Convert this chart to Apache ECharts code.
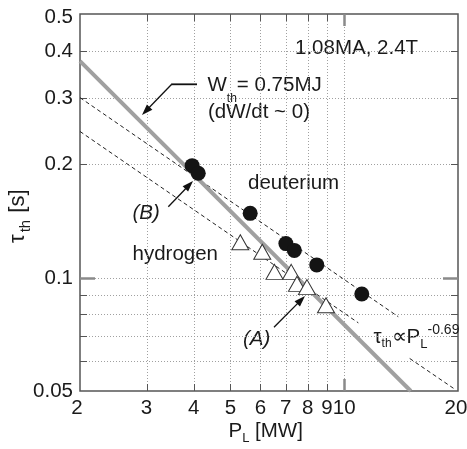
<!DOCTYPE html>
<html>
<head>
<meta charset="utf-8">
<script src="https://cdn.jsdelivr.net/npm/echarts@6/dist/echarts.min.js"></script>
<style>
  html, body { margin: 0; padding: 0; background: #fff; }
  #chart { width: 467px; height: 449px; }
</style>
</head>
<body>
<div id="chart"></div>
<script>
// Deuterium discharges: loss power P_L (MW) and thermal confinement time (s)
const deutP   = [3.96, 4.11, 5.64, 7.01, 7.38, 8.46, 11.13];
const deutTau = [0.198, 0.189, 0.148, 0.123, 0.118, 0.108, 0.0904];
// Hydrogen discharges
const hydP    = [5.31, 6.07, 6.54, 7.24, 7.50, 7.97, 8.95];
const hydTau  = [0.124, 0.117, 0.1035, 0.1035, 0.0962, 0.0943, 0.0844];
// Constant stored energy W_th = 0.75 MJ (end points of the straight line)
const wthP   = [2, 15];
const wthTau = [0.375, 0.05];
// tau ~ P^-0.69 guide lines (end points); the lower one is broken around its label
const upperP    = [2, 13.9];
const upperTau  = [0.3, 0.0787];
const lowerP1   = [2, 10.9];
const lowerTau1 = [0.244, 0.0758];
const lowerP2   = [14.9, 19.7];
const lowerTau2 = [0.061, 0.0504];
// Axis ranges, grid lines and tick labels
const xRange = [2, 20];
const yRange = [0.05, 0.5];
const xGridVals = [3, 4, 5, 6, 7, 8, 9, 10];
const yGridVals = [0.06, 0.07, 0.08, 0.09, 0.1, 0.2, 0.3, 0.4];
const xMajor = [10];
const yMajor = [0.1];
const xTickLabels = [2, 3, 4, 5, 6, 7, 8, 9, 10, 20];
const yTickLabels = [0.05, 0.1, 0.2, 0.3, 0.4, 0.5];

const FONT = '"Liberation Sans", Arial, Helvetica, sans-serif';
const INK = '#1a1a1a';
const BIG = 20.5;

const zip = (xs, ys) => xs.map((x, i) => [x, ys[i]]);

// text measuring for runs of normal / sub / superscript text
const mctx = document.createElement('canvas').getContext('2d');
function fontOf(size, italic) { return (italic ? 'italic ' : '') + size + 'px ' + FONT; }
function textW(t, size, italic) { mctx.font = fontOf(size, italic); return mctx.measureText(t).width; }
// parts: [text, fontSize, baselineShift, italic, extraGapAfter]; local origin = start of baseline
function runs(parts) {
  let x = 0;
  const kids = [];
  for (const [t, size, dy, it, gap] of parts) {
    kids.push({
      type: 'text', x: x, y: dy - 0.3465 * size,
      style: { text: t, font: fontOf(size, it), fill: INK, align: 'left', verticalAlign: 'middle' }
    });
    x += textW(t, size, it) + (gap || 0);
  }
  return kids;
}
function textRun(x, baseline, parts, extra) {
  return Object.assign({ type: 'group', x: x, y: baseline, z: 100, silent: true, children: runs(parts) }, extra || {});
}
function arrow(x1, y1, x2, y2) {
  const dx = x2 - x1, dy = y2 - y1, L = Math.hypot(dx, dy);
  const ux = dx / L, uy = dy / L, hl = 11, hw = 3.8;
  const bx = x2 - ux * hl, by = y2 - uy * hl;
  return [
    { type: 'line', z: 100, silent: true, shape: { x1: x1, y1: y1, x2: bx + ux, y2: by + uy }, style: { stroke: '#111', lineWidth: 1.3 } },
    { type: 'polygon', z: 100, silent: true, shape: { points: [[x2, y2], [bx - uy * hw, by + ux * hw], [bx + uy * hw, by - ux * hw]] }, style: { fill: '#111' } }
  ];
}

const gridStroke = { stroke: '#a0a0a0', lineWidth: 1, lineDash: [1, 2] };
const minorTick = { stroke: '#555', lineWidth: 1 };
const majorTick = { stroke: '#8a8a8a', lineWidth: 2.5 };

function vGrid(params, api) {
  const v = api.value(0);
  const b = api.coord([v, yRange[0]]), t = api.coord([v, yRange[1]]);
  const x = Math.round(b[0]) + 0.5;
  const major = xMajor.indexOf(v) >= 0;
  const len = major ? 12 : 7, ts = major ? majorTick : minorTick;
  return { type: 'group', children: [
    { type: 'line', shape: { x1: x, y1: b[1], x2: x, y2: t[1] }, style: gridStroke },
    { type: 'line', shape: { x1: x, y1: b[1], x2: x, y2: b[1] - len }, style: ts },
    { type: 'line', shape: { x1: x, y1: t[1], x2: x, y2: t[1] + len }, style: ts }
  ] };
}
function hGrid(params, api) {
  const v = api.value(1);
  const l = api.coord([xRange[0], v]), r = api.coord([xRange[1], v]);
  const y = Math.round(l[1]) + 0.5;
  const major = yMajor.indexOf(v) >= 0;
  const len = major ? 15 : 7, ts = major ? majorTick : minorTick;
  return { type: 'group', children: [
    { type: 'line', shape: { x1: l[0], y1: y, x2: r[0], y2: y }, style: gridStroke },
    { type: 'line', shape: { x1: l[0], y1: y, x2: l[0] + len, y2: y }, style: ts },
    { type: 'line', shape: { x1: r[0], y1: y, x2: r[0] - len, y2: y }, style: ts }
  ] };
}
function xLabel(params, api) {
  const v = api.value(0);
  const p = api.coord([v, yRange[0]]);
  const nudge = v === xRange[0] ? -3 : (v === xRange[1] ? -2 : 0);
  return { type: 'text', x: p[0] + nudge, y: p[1] + 17,
    style: { text: String(v), font: fontOf(BIG), fill: INK, align: 'center', verticalAlign: 'middle' } };
}
function yLabel(params, api) {
  const v = api.value(1);
  const p = api.coord([xRange[0], v]);
  const nudge = v === yRange[1] ? 3.5 : 0.5;
  return { type: 'text', x: p[0] - 7, y: p[1] + nudge,
    style: { text: String(v), font: fontOf(BIG), fill: INK, align: 'right', verticalAlign: 'middle' } };
}

const chart = echarts.init(document.getElementById('chart'), null, { renderer: 'canvas' });

const graphics = [
  textRun(295, 55, [['1.08MA, 2.4T', BIG, 0]]),
  textRun(207.5, 92.7, [['W', BIG, 0], ['th', 12, 10], ['= 0.75MJ', BIG, 0]]),
  textRun(208, 119.3, [['(dW/dt ~ 0)', BIG, 0]]),
  textRun(248, 190.7, [['deuterium', BIG, 0]]),
  textRun(132.5, 261.7, [['hydrogen', BIG, 0]]),
  textRun(132.5, 220.7, [['(B)', BIG, 0, true]]),
  textRun(243, 346.7, [['(A)', BIG, 0, true]]),
  textRun(373.5, 344, [['τ', BIG, 0], ['th', 12, 4], ['∝', BIG, 0], ['P', BIG, 0], ['L', 13, 5], ['-0.69', 14, -9]]),
  textRun(228.5, 438, [['P', BIG, 0], ['L', 13, 5], [' [MW]', BIG, 0]]),
  textRun(26, 243, [['τ', 22, 0, false, 2], ['th', 15, 5, false, 1], [' [s]', 22, 0]], { rotation: Math.PI / 2 }),
  { type: 'line', z: 100, silent: true, shape: { x1: 197, y1: 84.3, x2: 171.2, y2: 84.3 }, style: { stroke: '#111', lineWidth: 1.8 } }
].concat(arrow(171.7, 84.3, 142, 115), arrow(168.3, 206.7, 193, 181), arrow(274, 327.3, 305, 296));

chart.setOption({
  animation: false,
  backgroundColor: '#fff',
  grid: { left: 80, top: 14, width: 378, height: 377, show: true, borderColor: '#555', borderWidth: 1.5,
          backgroundColor: 'transparent', containLabel: false, outerBoundsMode: 'none' },
  xAxis: { type: 'log', logBase: 10, min: xRange[0], max: xRange[1],
           axisLine: { show: false }, axisTick: { show: false }, axisLabel: { show: false },
           splitLine: { show: false }, minorTick: { show: false }, minorSplitLine: { show: false } },
  yAxis: { type: 'log', logBase: 10, min: yRange[0], max: yRange[1],
           axisLine: { show: false }, axisTick: { show: false }, axisLabel: { show: false },
           splitLine: { show: false }, minorTick: { show: false }, minorSplitLine: { show: false } },
  series: [
    { type: 'custom', name: 'xgrid', renderItem: vGrid, clip: false, silent: true, z: 1,
      data: xGridVals.map(v => [v, yRange[0]]) },
    { type: 'custom', name: 'ygrid', renderItem: hGrid, clip: false, silent: true, z: 1,
      data: yGridVals.map(v => [xRange[0], v]) },
    { type: 'custom', name: 'xlabels', renderItem: xLabel, clip: false, silent: true, z: 1,
      data: xTickLabels.map(v => [v, yRange[0]]) },
    { type: 'custom', name: 'ylabels', renderItem: yLabel, clip: false, silent: true, z: 1,
      data: yTickLabels.map(v => [xRange[0], v]) },
    { type: 'line', name: 'upper', data: zip(upperP, upperTau), showSymbol: false, silent: true, z: 2,
      lineStyle: { color: '#222', width: 1, type: [4, 3] } },
    { type: 'line', name: 'lower1', data: zip(lowerP1, lowerTau1), showSymbol: false, silent: true, z: 2,
      lineStyle: { color: '#222', width: 1, type: [4, 3] } },
    { type: 'line', name: 'lower2', data: zip(lowerP2, lowerTau2), showSymbol: false, silent: true, z: 2,
      lineStyle: { color: '#222', width: 1, type: [4, 3] } },
    { type: 'line', name: 'W_th = 0.75MJ', data: zip(wthP, wthTau), showSymbol: false, silent: true, z: 3,
      lineStyle: { color: '#a0a0a0', width: 4 } },
    { type: 'scatter', name: 'hydrogen', data: zip(hydP, hydTau), symbol: 'triangle', symbolSize: [17, 15], z: 5,
      itemStyle: { color: '#fff', borderColor: '#333', borderWidth: 1, opacity: 1 } },
    { type: 'scatter', name: 'deuterium', data: zip(deutP, deutTau), symbol: 'circle', symbolSize: 15, z: 6,
      itemStyle: { color: '#141414', opacity: 1 } }
  ],
  graphic: graphics
});
</script>
</body>
</html>
